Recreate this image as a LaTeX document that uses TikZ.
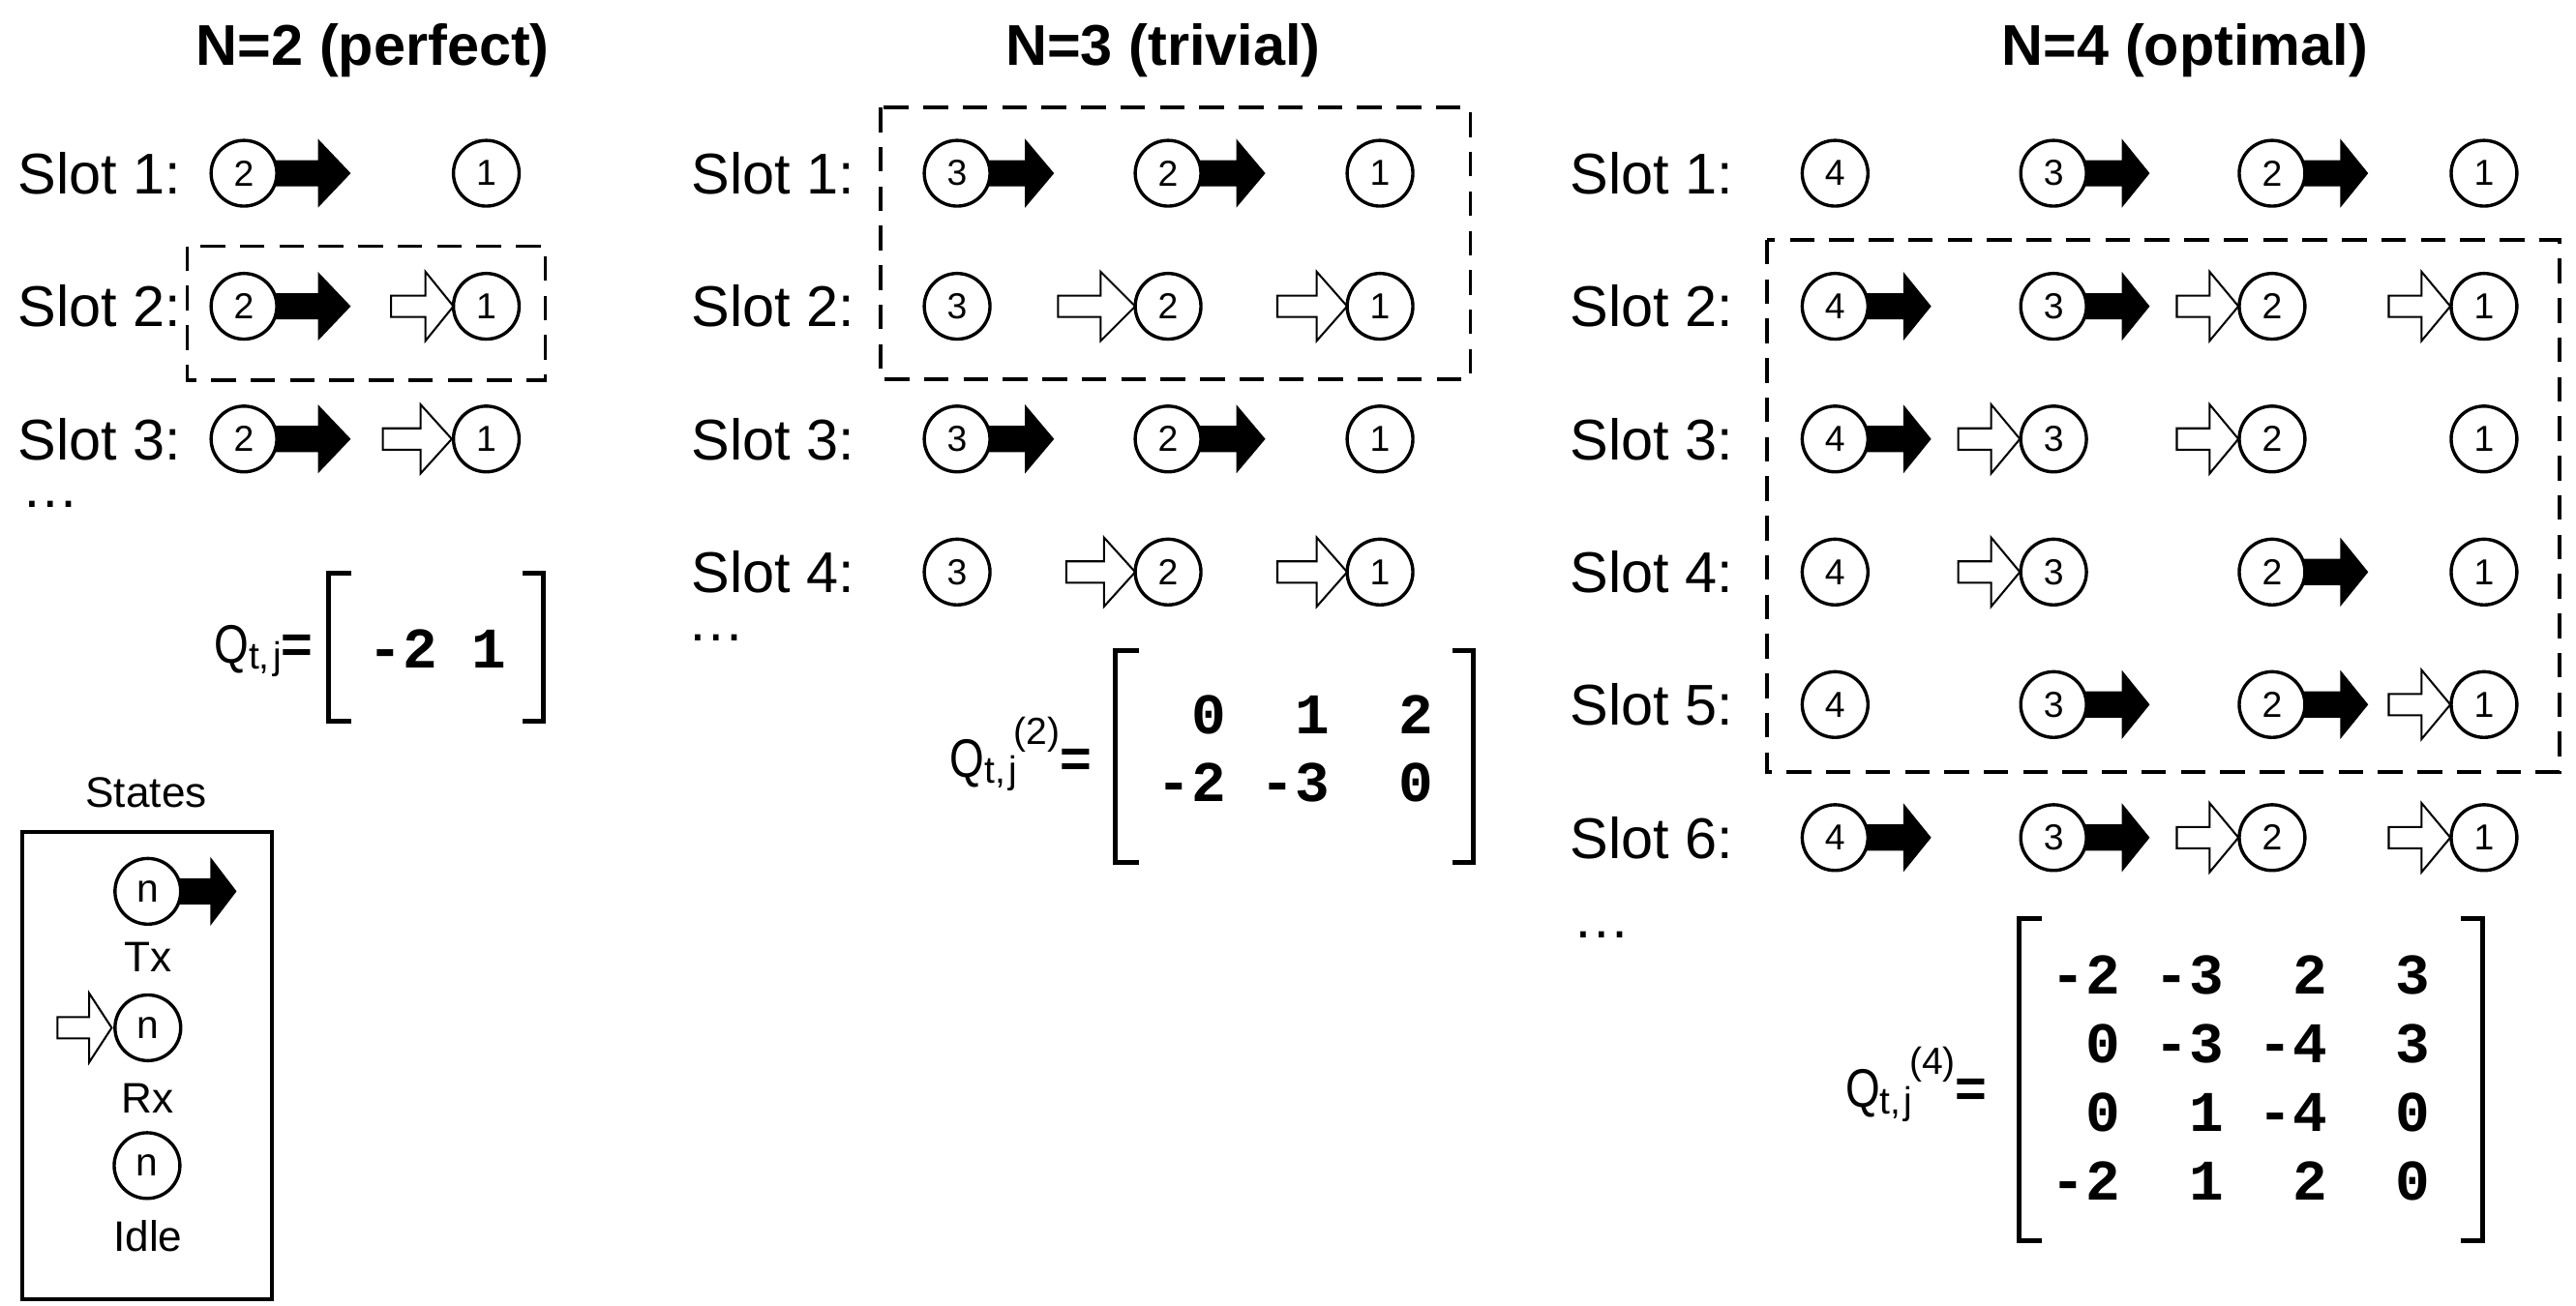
\documentclass[tikz,border=0pt]{standalone}
\usepackage{fontspec}
\setmainfont{Liberation Sans}
\setmonofont{Liberation Mono}
\newfontfamily\narrowsf[FakeStretch=0.82]{Liberation Sans}
\pgfdeclarelayer{bg}
\pgfsetlayers{bg,main}
% filled (Tx) arrow leaving a state circle: node, head base, tip
\newcommand\txarrow[3]{\fill[shift={(#1.center)}] (0,-8) -- (#2,-8) -- (#2,-21) -- (#3,0) -- (#2,21) -- (#2,8) -- (0,8) -- cycle;}
% hollow (Rx) arrow entering a state circle: node, tip offset, head length, shaft length
\newcommand\rxarrow[4]{\filldraw[rxline,shift={(#1.center)}] (-#2,0) -- ({-#2-#3},-21) -- ({-#2-#3},-6.5) -- ({-#2-#3-#4},-6.5) -- ({-#2-#3-#4},6.5) -- ({-#2-#3},6.5) -- ({-#2-#3},21) -- cycle;}
\newcommand\qlabel[1]{{\narrowsf\fontsize{16.5}{16.5}\selectfont Q}\raisebox{-2pt}{\fontsize{11.5}{11.5}\selectfont t,\kern1pt j}#1{\fontsize{16.5}{16.5}\selectfont\bfseries =}}
\newcommand\qsup[1]{\kern-1pt\raisebox{10pt}{\fontsize{11.5}{11.5}\selectfont (#1)}}
\tikzset{
  slotlbl/.style={anchor=west, inner sep=0pt, font=\fontsize{17.5}{21}\selectfont},
  dotslbl/.style={anchor=base west, inner sep=0pt, font=\fontsize{17.5}{21}\selectfont},
  ttl/.style={anchor=base, inner sep=0pt, font=\fontsize{17.5}{21}\selectfont\bfseries},
  st/.style={circle, draw, line width=1pt, fill=white, minimum size=20pt, inner sep=0pt, font=\fontsize{11}{11}\selectfont},
  lgst/.style={st, font=\fontsize{12}{12}\selectfont},
  lgtxt/.style={inner sep=0pt, font=\fontsize{13}{13}\selectfont},
  dbox/.style={draw, line width=1pt, dash pattern=on 7.5pt off 4.5pt},
  mrow/.style={anchor=base west, inner sep=0pt, font=\fontsize{17.5}{21}\selectfont\ttfamily\bfseries},
  brk/.style={line width=1.5pt},
  qlbl/.style={anchor=base east, inner sep=0pt},
  rxline/.style={fill=white, draw=black, line width=0.6pt},
}
\begin{document}
\begin{tikzpicture}[x=0.5pt,y=-0.5pt]
\useasboundingbox (0,0) rectangle (1568,795);

% ================= N=2 =================
\node[ttl] (t2) at (227,39.5) {N=2 (perfect)};
\node[slotlbl] (a1) at (10.5,105.5) {Slot 1:};
\node[slotlbl] (a2) at (10.5,186.5) {Slot 2:};
\node[slotlbl] (a3) at (10.5,267.3) {Slot 3:};
\node[dotslbl] (adots) at (13,309) {…};
\node[st] (a1n2) at (148.5,105.5) {2};
\node[st] (a1n1) at (296,105.5) {1};
\node[st] (a2n2) at (148.5,186.5) {2};
\node[st] (a2n1) at (296,186.5) {1};
\node[st] (a3n2) at (148.5,267.3) {2};
\node[st] (a3n1) at (296,267.3) {1};
\draw[dbox] (114,150) rectangle (332,231.5);
\node[qlbl] (q2) at (191,403.5) {\qlabel{}};
\draw[brk] (214,349) -- (200,349) -- (200,439) -- (214,439);
\draw[brk] (318,349) -- (331,349) -- (331,439) -- (318,439);
\node[mrow] (m2a) at (224,406.5) {-2~1};

% ================= N=3 =================
\node[ttl] (t3) at (708,39.5) {N=3 (trivial)};
\node[slotlbl] (b1) at (420.5,105.5) {Slot 1:};
\node[slotlbl] (b2) at (420.5,186.5) {Slot 2:};
\node[slotlbl] (b3) at (420.5,267.3) {Slot 3:};
\node[slotlbl] (b4) at (420.5,348.3) {Slot 4:};
\node[dotslbl] (bdots) at (418,390) {…};
\foreach \r/\y in {1/105.5,2/186.5,3/267.3,4/348.3}{
  \node[st] (b\r n3) at (582.6,\y) {3};
  \node[st] (b\r n2) at (711,\y) {2};
  \node[st] (b\r n1) at (840,\y) {1};
}
\draw[dbox] (536,65.5) rectangle (895,231);
\node[qlbl] (q3) at (665,473) {\qlabel{\qsup{2}}};
\draw[brk] (693,396) -- (679,396) -- (679,525) -- (693,525);
\draw[brk] (884,396) -- (897,396) -- (897,525) -- (884,525);
\node[mrow] (m3a) at (704,447) {~0~~1~~2};
\node[mrow] (m3b) at (704,488) {-2~-3~~0};

% ================= N=4 =================
\node[ttl] (t4) at (1330,39.5) {N=4 (optimal)};
\node[slotlbl] (c1) at (955.5,105.5) {Slot 1:};
\node[slotlbl] (c2) at (955.5,186.5) {Slot 2:};
\node[slotlbl] (c3) at (955.5,267.3) {Slot 3:};
\node[slotlbl] (c4) at (955.5,348.3) {Slot 4:};
\node[slotlbl] (c5) at (955.5,429) {Slot 5:};
\node[slotlbl] (c6) at (955.5,510) {Slot 6:};
\node[dotslbl] (cdots) at (957,571) {…};
\foreach \r/\y in {1/105.5,2/186.5,3/267.3,4/348.3,5/429,6/510}{
  \node[st] (c\r n4) at (1117,\y) {4};
  \node[st] (c\r n3) at (1250,\y) {3};
  \node[st] (c\r n2) at (1383,\y) {2};
  \node[st] (c\r n1) at (1512,\y) {1};
}
\draw[dbox] (1075.5,146) rectangle (1558,470);
\node[qlbl] (q4) at (1210,674) {\qlabel{\qsup{4}}};
\draw[brk] (1243,559.5) -- (1229,559.5) -- (1229,755.5) -- (1243,755.5);
\draw[brk] (1498,559.5) -- (1511,559.5) -- (1511,755.5) -- (1498,755.5);
\node[mrow] (m4a) at (1248,605.5) {-2~-3~~2~~3};
\node[mrow] (m4b) at (1248,647) {~0~-3~-4~~3};
\node[mrow] (m4c) at (1248,689) {~0~~1~-4~~0};
\node[mrow] (m4d) at (1248,730.5) {-2~~1~~2~~0};

% ================= Legend =================
\node[lgtxt] (lgtitle) at (89,482.5) {States};
\draw[line width=1.1pt] (13.6,506.4) rectangle (165.5,791);
\node[lgst] (lgtx) at (90,542.7) {n};
\node[lgtxt] (lgtxl) at (90,582.8) {Tx};
\node[lgst] (lgrx) at (90,625.8) {n};
\node[lgtxt] (lgrxl) at (90,668.9) {Rx};
\node[lgst] (lgid) at (89.5,709.7) {n};
\node[lgtxt] (lgidl) at (90,752.6) {Idle};

% ================= arrows (behind circles) =================
\begin{pgfonlayer}{bg}
  % N=2
  \txarrow{a1n2}{45}{65}
  \txarrow{a2n2}{45}{65}
  \txarrow{a3n2}{45}{65}
  \rxarrow{a2n1}{20}{17}{21}
  \rxarrow{a3n1}{21}{19}{23}
  % N=3
  \txarrow{b1n3}{41.3}{59}
  \txarrow{b1n2}{41.5}{59.2}
  \rxarrow{b2n2}{20}{21}{26}
  \rxarrow{b2n1}{20}{18.5}{24}
  \txarrow{b3n3}{41.3}{59}
  \txarrow{b3n2}{41.5}{59.2}
  \rxarrow{b4n2}{20}{19}{23}
  \rxarrow{b4n1}{20}{18.5}{24}
  % N=4
  \txarrow{c1n3}{41.5}{58.5}
  \txarrow{c1n2}{41.5}{58.5}
  \txarrow{c2n4}{41.5}{58.5}
  \txarrow{c2n3}{41.5}{58.5}
  \rxarrow{c2n2}{20.5}{17.5}{20}
  \rxarrow{c2n1}{20.5}{17.5}{20}
  \txarrow{c3n4}{41.5}{58.5}
  \rxarrow{c3n3}{20.5}{17.5}{20}
  \rxarrow{c3n2}{20.5}{17.5}{20}
  \rxarrow{c4n3}{20.5}{17.5}{20}
  \txarrow{c4n2}{41.5}{58.5}
  \txarrow{c5n3}{41.5}{58.5}
  \txarrow{c5n2}{41.5}{58.5}
  \rxarrow{c5n1}{20.5}{17.5}{20}
  \txarrow{c6n4}{41.5}{58.5}
  \txarrow{c6n3}{41.5}{58.5}
  \rxarrow{c6n2}{20.5}{17.5}{20}
  \rxarrow{c6n1}{20.5}{17.5}{20}
  % legend
  \txarrow{lgtx}{38}{54}
  \rxarrow{lgrx}{22}{13.7}{19.3}
\end{pgfonlayer}
\end{tikzpicture}
\end{document}
